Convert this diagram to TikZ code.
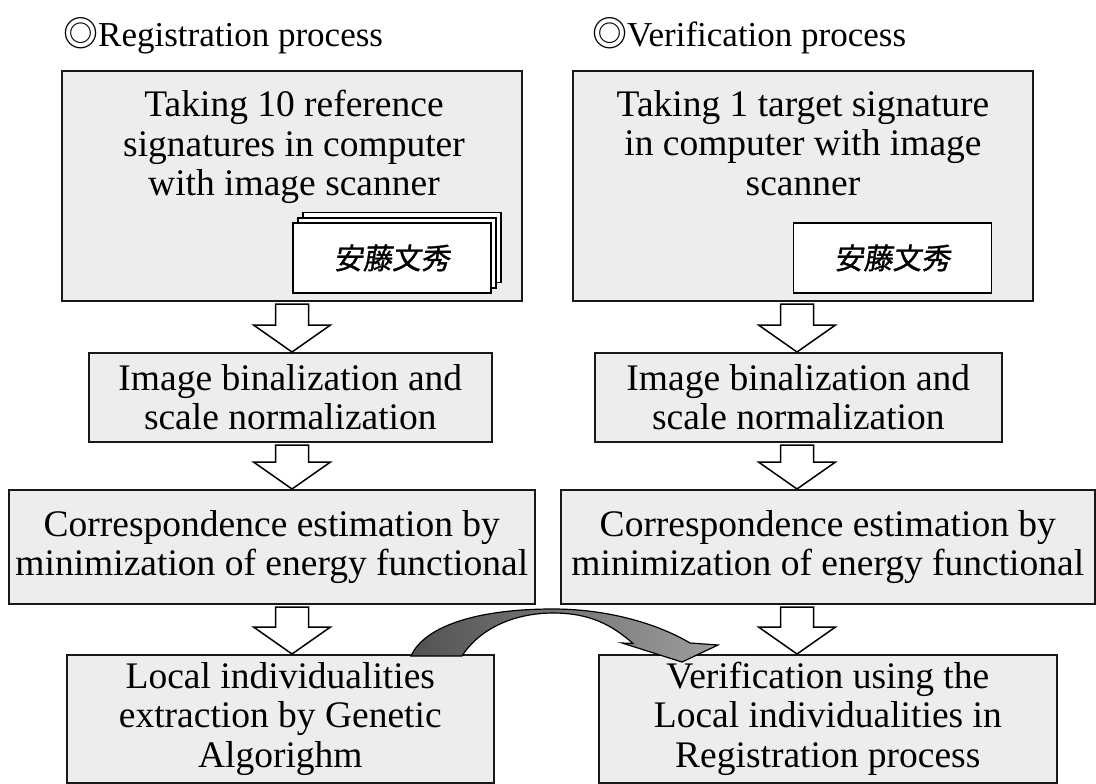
\documentclass[tikz,border=0pt]{standalone}
\usepackage{fontspec}
\setmainfont{Liberation Serif}
\newfontfamily\cjkfont{Noto Sans CJK JP}
\newfontfamily\signfont[FakeSlant=0.15,FakeBold=1.2]{Noto Sans CJK JP}
\usetikzlibrary{calc}

\newcommand\boxfont{\fontsize{37.5}{39.5}\selectfont}
\newcommand\headfont{\fontsize{35}{38}\selectfont}

\tikzset{
  procbox/.style={draw=black!90, line width=1.6pt, fill=black!7, align=center,
                  font=\boxfont, inner sep=0pt, anchor=north west},
  boxtext/.style={align=center, font=\boxfont, inner sep=0pt, anchor=north},
  heading/.style={font=\headfont, inner sep=0pt, anchor=base west},
  sigcard/.style={draw=black, line width=1.5pt, fill=white, inner sep=0pt,
                  minimum width=198pt, minimum height=70pt},
  signame/.style={font=\signfont\fontsize{29}{30}\selectfont},
  blockarrow/.style={draw=black, line width=1.5pt, fill=white, line join=miter},
  bendarrow/.style={draw=black, line width=1.2pt, left color=black!68, right color=black!38}
}

% hollow block arrow pointing down, at horizontal position #1 (pt), from node #2 to node #3
\newcommand\blockdown[3]{%
  \draw[blockarrow] let \p1=(#2.south), \p2=(#3.north) in
    ({#1pt-16.5pt},{\y1-2.5pt}) -- ({#1pt+16.5pt},{\y1-2.5pt})
    -- ({#1pt+16.5pt},{\y2+27pt}) -- ({#1pt+38.5pt},{\y2+27pt})
    -- ({#1pt},{\y2}) -- ({#1pt-38.5pt},{\y2+27pt})
    -- ({#1pt-16.5pt},{\y2+27pt}) -- cycle;}

\begin{document}
\begin{tikzpicture}[x=1pt,y=-1pt]
\useasboundingbox (0,0) rectangle (1096,784);
\fill[white] (0,0) rectangle (1096,784);

% headings
\node[heading] (hreg) at (63,47) {{\cjkfont ◎}Registration process};
\node[heading] (hver) at (592,47) {{\cjkfont ◎}Verification process};

% registration column
\node[procbox, minimum width=460pt, minimum height=230pt] (l1) at (61,70) {};
\node[boxtext] (l1t) at (294,90) {Taking 10 reference\\signatures in computer\\with image scanner};
\node[sigcard] (c3) at (402,247.5) {};
\node[sigcard] (c2) at (397,253) {};
\node[sigcard] (c1) at (392,258) {};
\node[signame] (s1) at (c1.center) {安藤文秀};

\node[procbox, minimum width=403pt, minimum height=89pt] (l2) at (88,352)
  {Image binalization and\\scale normalization};
\node[procbox, minimum width=526pt, minimum height=114pt] (l3) at (8,489)
  {Correspondence estimation by\\minimization of energy functional};
\node[procbox, minimum width=427pt, minimum height=128pt] (l4) at (66,654)
  {Local individualities\\extraction by Genetic\\Algorighm};

% verification column
\node[procbox, minimum width=460pt, minimum height=230pt] (r1) at (572,70) {};
\node[boxtext] (r1t) at (803,90) {Taking 1 target signature\\in computer with image\\scanner};
\node[sigcard] (c4) at (892.5,258) {};
\node[signame] (s2) at (c4.center) {安藤文秀};

\node[procbox, minimum width=407pt, minimum height=89pt] (r2) at (594,352)
  {Image binalization and\\scale normalization};
\node[procbox, minimum width=534pt, minimum height=114pt] (r3) at (560,489)
  {Correspondence estimation by\\minimization of energy functional};
\node[procbox, minimum width=458pt, minimum height=128pt] (r4) at (598,654)
  {Verification using the\\Local individualities in\\Registration process};

% flow arrows
\blockdown{292}{l1}{l2}
\blockdown{292}{l2}{l3}
\blockdown{292}{l3}{l4}
\blockdown{797}{r1}{r2}
\blockdown{797}{r2}{r3}
\blockdown{797}{r3}{r4}

% curved transfer arrow from registration result to verification
\coordinate (tl) at ($(l4.north west)+(345,2)$);
\coordinate (tr) at ($(l4.north west)+(396,2)$);
\coordinate (tip) at ($(r4.north west)+(84,8)$);
\shadedraw[bendarrow] (tl) .. controls (425,625) and (480,609) .. (553,609)
  .. controls (610,609) and (660,625) .. (690,643) -- (718,645) -- (tip)
  -- (622,643) -- (633,643.5) .. controls (612,625) and (590,613) .. (553,613)
  .. controls (515,613) and (480,628) .. (tr) -- cycle;
\end{tikzpicture}
\end{document}
